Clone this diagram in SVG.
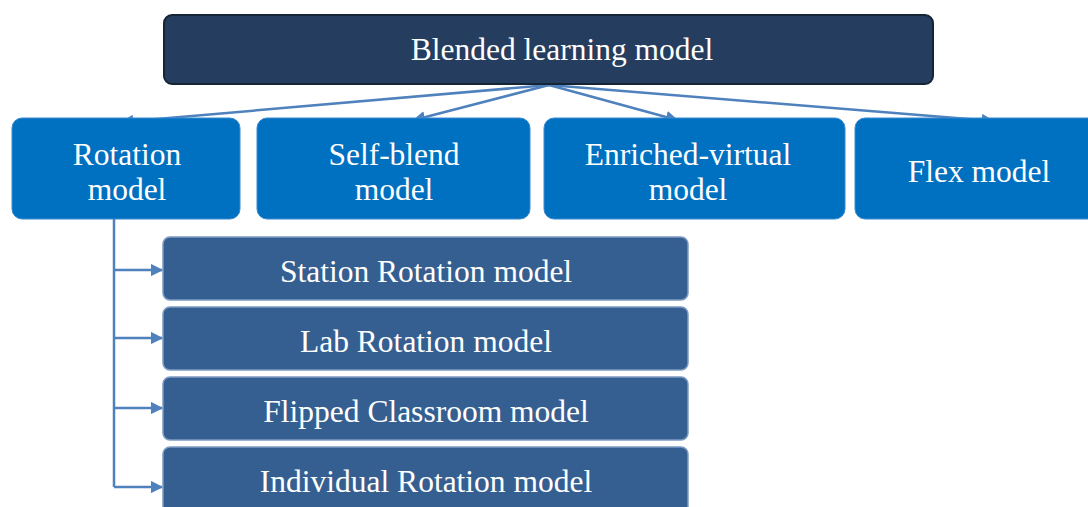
<svg xmlns="http://www.w3.org/2000/svg" width="1088" height="507" viewBox="0 0 1088 507">
  <defs>
    <marker id="arrow" viewBox="0 0 10 10" refX="9" refY="5" markerWidth="5" markerHeight="5" orient="auto" markerUnits="strokeWidth">
      <path d="M0,0 L10,5 L0,10 z" fill="#4f81bd"/>
    </marker>
    <style>
      .root { fill: #253d5e; stroke: #162536; stroke-width: 2; }
      .mid { fill: #0070c0; stroke: #3a8ad0; stroke-width: 1; }
      .sub { fill: #365f91; stroke: #7e9cc2; stroke-width: 1.5; }
      .lbl { font-family: "Liberation Serif", "Times New Roman", serif; font-size: 31.5px; fill: #ffffff; text-anchor: middle; }
      .conn { fill: none; stroke: #4f81bd; stroke-width: 2.5; marker-end: url(#arrow); }
      .trunk { fill: none; stroke: #4f81bd; stroke-width: 2.5; }
    </style>
  </defs>
  <rect width="1088" height="507" fill="#ffffff"/>

  <!-- connectors -->
  <g id="connectors">
    <line class="conn" x1="549" y1="85" x2="122" y2="122"/>
    <line class="conn" x1="549" y1="85" x2="414" y2="120"/>
    <line class="conn" x1="549" y1="85" x2="677" y2="120"/>
    <line class="conn" x1="549" y1="85" x2="993" y2="121"/>
    <path class="trunk" d="M114,218 V487"/>
    <line class="conn" x1="114" y1="270" x2="162" y2="270"/>
    <line class="conn" x1="114" y1="338" x2="162" y2="338"/>
    <line class="conn" x1="114" y1="408" x2="162" y2="408"/>
    <line class="conn" x1="114" y1="487" x2="162" y2="487"/>
  </g>

  <!-- root -->
  <g id="blended">
    <rect class="root" x="164" y="15" width="769" height="69" rx="8"/>
    <text class="lbl" x="562" y="60">Blended learning model</text>
  </g>

  <!-- second level -->
  <g id="rotation">
    <rect class="mid" x="12" y="118" width="228" height="101" rx="10"/>
    <text class="lbl" x="127" y="165">Rotation</text>
    <text class="lbl" x="127" y="200">model</text>
  </g>
  <g id="self-blend">
    <rect class="mid" x="257" y="118" width="273" height="101" rx="10"/>
    <text class="lbl" x="394" y="165">Self-blend</text>
    <text class="lbl" x="394" y="200">model</text>
  </g>
  <g id="enriched-virtual">
    <rect class="mid" x="544" y="118" width="301" height="101" rx="10"/>
    <text class="lbl" x="688" y="165">Enriched-virtual</text>
    <text class="lbl" x="688" y="200">model</text>
  </g>
  <g id="flex">
    <rect class="mid" x="855" y="118" width="245" height="101" rx="10"/>
    <text class="lbl" x="979" y="182">Flex model</text>
  </g>

  <!-- rotation sub-models -->
  <g id="station-rotation">
    <rect class="sub" x="163" y="237" width="525" height="63" rx="7"/>
    <text class="lbl" x="426" y="282">Station Rotation model</text>
  </g>
  <g id="lab-rotation">
    <rect class="sub" x="163" y="307" width="525" height="63" rx="7"/>
    <text class="lbl" x="426" y="352">Lab Rotation model</text>
  </g>
  <g id="flipped-classroom">
    <rect class="sub" x="163" y="377" width="525" height="63" rx="7"/>
    <text class="lbl" x="426" y="422">Flipped Classroom model</text>
  </g>
  <g id="individual-rotation">
    <rect class="sub" x="163" y="447" width="525" height="70" rx="7"/>
    <text class="lbl" x="426" y="492">Individual Rotation model</text>
  </g>
</svg>
